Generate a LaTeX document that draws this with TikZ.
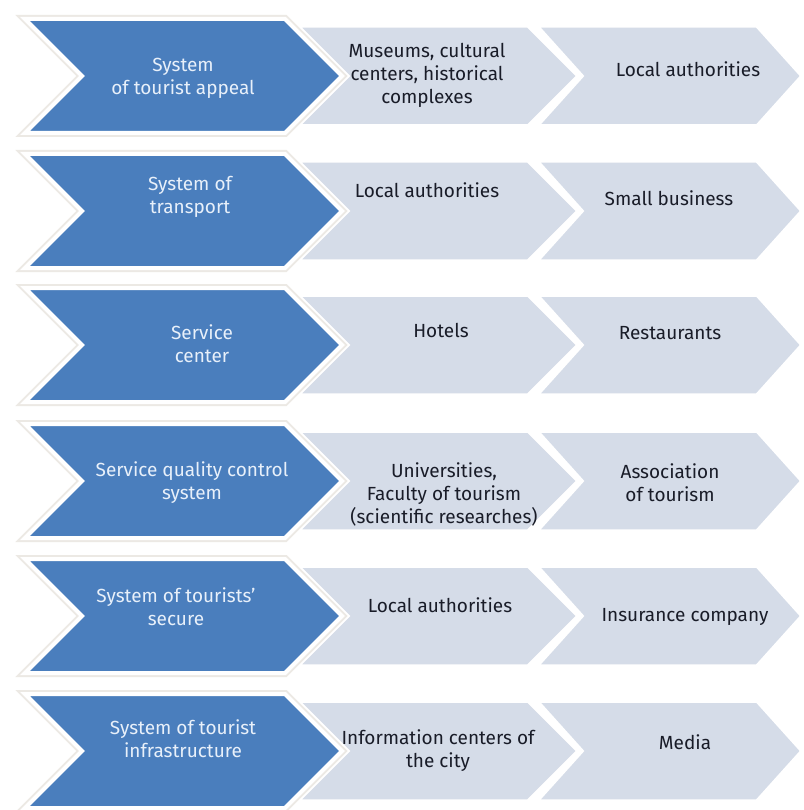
\documentclass[tikz,border=0pt]{standalone}
\usepackage{fontspec}
\setmainfont{Fira Sans}
\definecolor{bluefill}{RGB}{74,126,189}
\definecolor{grayfill}{RGB}{213,220,232}
\definecolor{bluetext}{RGB}{232,240,250}
\definecolor{graytext}{RGB}{25,28,40}
\definecolor{glow}{RGB}{236,233,228}
\tikzset{
  bluechev/.style={fill=bluefill, draw=white, line width=4pt, line join=miter},
  glowchev/.style={draw=glow, line width=8pt, line join=miter},
  graychev/.style={fill=grayfill, draw=white, line width=3.5pt, line join=miter},
  bluelbl/.style={text=bluetext, align=center, inner sep=0pt, font=\fontsize{19}{23}\selectfont},
  graylbl/.style={text=graytext, align=center, inner sep=0pt, font=\fontsize{19}{23}\selectfont},
}
\newcommand\mychevron[6]{% style, left, right, cy, half height, depth
  \path[#1] (#2,#4-#5) -- (#3,#4-#5) -- (#3+#6,#4) -- (#3,#4+#5) -- (#2,#4+#5) -- (#2+#6,#4) -- cycle;
}
\newcommand\myrow[1]{% cy
  \mychevron{graychev}{537}{757}{#1}{50}{45}
  \mychevron{graychev}{298}{528}{#1}{50}{50}
  \mychevron{glowchev}{25}{285}{#1}{57}{57}
  \mychevron{bluechev}{25}{285}{#1}{57}{57}
}
\begin{document}
\begin{tikzpicture}[x=1pt,y=-1pt]
  \useasboundingbox[fill=white] (0,0) rectangle (803,810);
  \myrow{76}
  \myrow{211}
  \myrow{345}
  \myrow{481}
  \myrow{616}
  \myrow{751}
  % row 1
  \node[bluelbl] (b1) at (183,78) {System\\of tourist appeal};
  \node[graylbl] (a1) at (427,75) {Museums, cultural\\centers, historical\\complexes};
  \node[graylbl] (c1) at (688,69) {Local authorities};
  % row 2
  \node[bluelbl] (b2) at (190,197) {System of\\transport};
  \node[graylbl] (a2) at (427,190) {Local authorities};
  \node[graylbl] (c2) at (669,198) {Small business};
  % row 3
  \node[bluelbl] (b3) at (202,344) {Service\\center};
  \node[graylbl] (a3) at (441,330) {Hotels};
  \node[graylbl] (c3) at (670,333) {Restaurants};
  % row 4
  \node[bluelbl] (b4) at (192,483) {Service quality control\\system};
  \node[graylbl] (a4) at (444,494) {Universities,\\Faculty of tourism\\(scientific researches)};
  \node[graylbl] (c4) at (670,483) {Association\\of tourism};
  % row 5
  \node[bluelbl] (b5) at (176,607) {System of tourists’\\secure};
  \node[graylbl] (a5) at (440,605) {Local authorities};
  \node[graylbl] (c5) at (685,617) {Insurance company};
  % row 6
  \node[bluelbl] (b6) at (183,739) {System of tourist\\infrastructure};
  \node[graylbl] (a6) at (438,751) {Information centers of\\the city};
  \node[graylbl] (c6) at (685,742) {Media};
\end{tikzpicture}
\end{document}
